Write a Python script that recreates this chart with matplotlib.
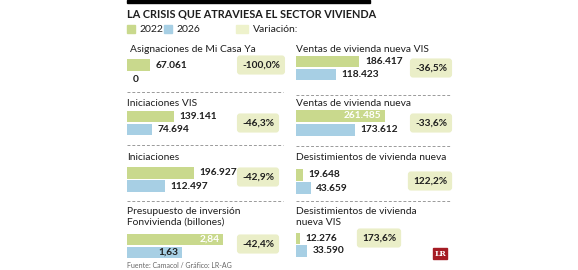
import matplotlib.pyplot as plt
from matplotlib.patches import Rectangle

plt.rcParams['font.family'] = ['Lato', 'DejaVu Sans']

# data
titles = ["Asignaciones de Mi Casa Ya", "Iniciaciones VIS", "Iniciaciones",
          "Presupuesto de inversión\nFonvivienda (billones)",
          "Ventas de vivienda nueva VIS", "Ventas de vivienda nueva",
          "Desistimientos de vivienda nueva", "Desistimientos de vivienda\nnueva VIS"]
v2022 = [67061, 139141, 196927, 2.84, 186417, 261485, 19648, 12276]
v2026 = [0, 74694, 112497, 1.63, 118423, 173612, 43659, 33590]
lab2022 = ["67.061", "139.141", "196.927", "2,84", "186.417", "261.485", "19.648", "12.276"]
lab2026 = ["0", "74.694", "112.497", "1,63", "118.423", "173.612", "43.659", "33.590"]
variation = ["-100,0%", "-46,3%", "-42,9%", "-42,4%", "-36,5%", "-33,6%", "122,2%", "173,6%"]
years = ["2022", "2026"]

GREEN = '#c9d98d'
BLUE = '#a7cfe4'
BOX = '#eaeec8'
TXT = '#1e1e1e'

W, H = 578, 270
fig = plt.figure(figsize=(W / 100, H / 100), dpi=100)
bg = fig.add_axes([0, 0, 1, 1])
bg.set_xlim(0, W)
bg.set_ylim(H, 0)
bg.axis('off')

# header
bg.add_patch(Rectangle((127, 0), 243, 3, color='black'))
bg.text(127, 14, "LA CRISIS QUE ATRAVIESA EL SECTOR VIVIENDA", fontsize=7.8,
        fontweight='bold', color=TXT, va='center', ha='left')
bg.add_patch(Rectangle((127, 25), 8, 8, color=GREEN))
bg.text(139, 29, years[0], fontsize=7.5, va='center', color=TXT)
bg.add_patch(Rectangle((164, 25), 8, 8, color=BLUE))
bg.text(176, 29, years[1], fontsize=7.5, va='center', color=TXT)
bg.add_patch(Rectangle((236, 25), 12, 8, color='#eef2cc'))
bg.text(253, 29, "Variación:", fontsize=7.5, va='center', color=TXT)

# dashed separators
for y in (92, 145, 201):
    bg.plot([127, 283], [y, y], color='#9a9a9a', lw=0.7, ls=(0, (3, 2)))
for y in (95, 146, 201):
    bg.plot([296, 450], [y, y], color='#9a9a9a', lw=0.7, ls=(0, (3, 2)))

# layout per panel: left x, title y, bars top/bottom, variation box centre
x0 = [127, 127, 127, 127, 296, 296, 296, 296]
title_y = [49, 103, 157, 217, 50, 104, 157, 217]
bar_top = [58, 110, 166, 233, 55, 109, 168, 232]
bar_bot = [86, 136, 193, 259, 81, 137, 195, 257]
box_xy = [(261, 65), (258, 123), (258, 177), (258, 244),
          (431, 68), (431, 123), (430, 181), (379, 238)]
inside = [(False, False), (False, False), (False, False), (True, True),
          (False, False), (True, False), (False, False), (False, False)]
px_per_unit = [0.00034] * 8
px_per_unit[3] = 96 / 2.84

AXW = 150
for i in range(8):
    bg.text(x0[i] + (3 if i == 0 else 0), title_y[i], titles[i], fontsize=7.4,
            color=TXT, va='center', ha='left', linespacing=1.2)
    ax = fig.add_axes([x0[i] / W, 1 - bar_bot[i] / H, AXW / W,
                       (bar_bot[i] - bar_top[i]) / H])
    ax.set_xlim(0, AXW / px_per_unit[i])
    ax.set_ylim(1.5, -0.5)
    ax.axis('off')
    vals = [v2022[i], v2026[i]]
    labs = [lab2022[i], lab2026[i]]
    ax.barh([0, 1], vals, height=0.92, color=[GREEN, BLUE])
    for j in range(2):
        if inside[i][j]:
            col = 'white' if j == 0 else TXT
            ax.annotate(labs[j], (vals[j], j), xytext=(-2.5, 0),
                        textcoords='offset points', ha='right', va='center',
                        fontsize=7.3, fontweight='bold', color=col)
        else:
            ax.annotate(labs[j], (vals[j], j), xytext=(4, 0),
                        textcoords='offset points', ha='left', va='center',
                        fontsize=7.3, fontweight='bold', color=TXT)
    bx, by = box_xy[i]
    bg.text(bx, by, variation[i], fontsize=7.3, fontweight='bold', color=TXT,
            ha='center', va='center',
            bbox=dict(boxstyle='round,pad=0.5,rounding_size=0.3', fc=BOX, ec='none'))

bg.text(127, 265, "Fuente: Camacol / Gráfico: LR-AG", fontsize=5,
        color='#666666', va='center', ha='left')

# LR logo
bg.add_patch(Rectangle((433, 248), 14, 11, color='#a51c24'))
bg.text(440, 253.5, "LR", fontsize=5.5, fontweight='bold', family='DejaVu Serif',
        color='white', ha='center', va='center')

fig.savefig('out.png', dpi=100)
